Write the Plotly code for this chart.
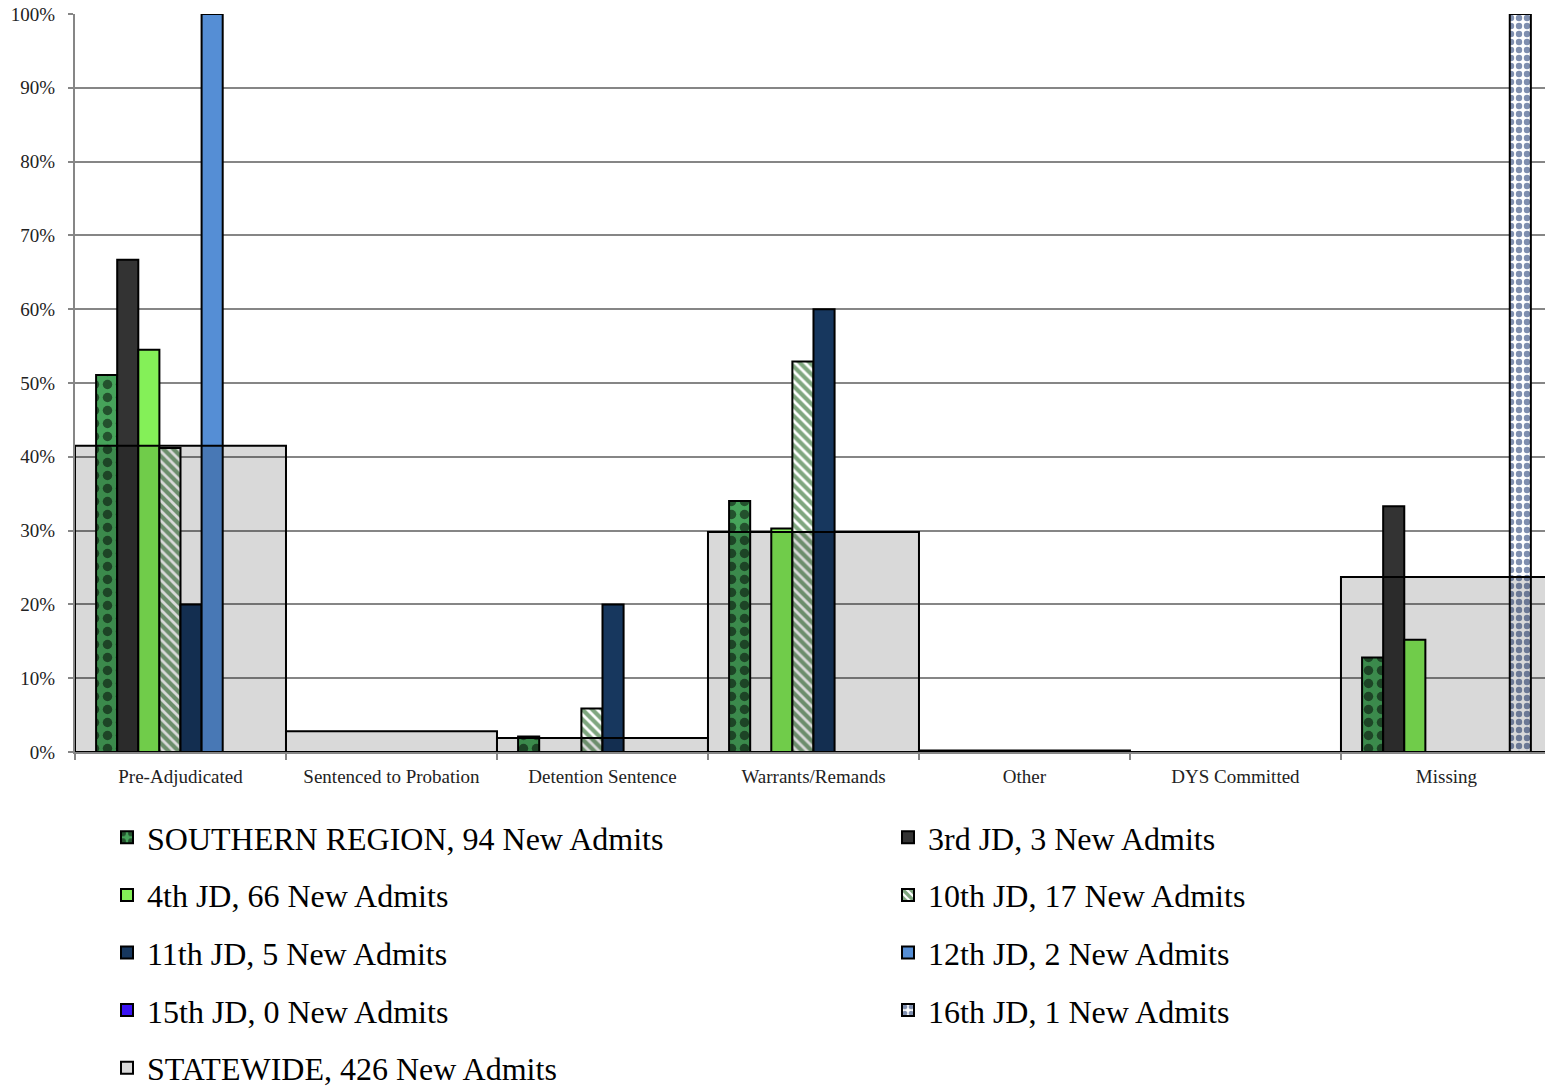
import plotly.graph_objects as go

categories = ["Pre-Adjudicated", "Sentenced to Probation", "Detention Sentence",
              "Warrants/Remands", "Other", "DYS Committed", "Missing"]

southern = [51.1, 0, 2.1, 34.0, 0, 0, 12.8]
jd3 = [66.7, 0, 0, 0, 0, 0, 33.3]
jd4 = [54.5, 0, 0, 30.3, 0, 0, 15.2]
jd10 = [41.2, 0, 5.9, 52.9, 0, 0, 0]
jd11 = [20.0, 0, 20.0, 60.0, 0, 0, 0]
jd12 = [100.0, 0, 0, 0, 0, 0, 0]
jd15 = [0, 0, 0, 0, 0, 0, 0]
jd16 = [0, 0, 0, 0, 0, 0, 100.0]
statewide = [41.5, 2.8, 1.9, 29.8, 0.2, 0, 23.7]

names = {
    "southern": "SOUTHERN REGION, 94 New Admits",
    "jd3": "3rd JD, 3 New Admits",
    "jd4": "4th JD, 66 New Admits",
    "jd10": "10th JD, 17 New Admits",
    "jd11": "11th JD, 5 New Admits",
    "jd12": "12th JD, 2 New Admits",
    "jd15": "15th JD, 0 New Admits",
    "jd16": "16th JD, 1 New Admits",
    "statewide": "STATEWIDE, 426 New Admits",
}

FONT = "Liberation Serif"
line = dict(color="black", width=2)

fig = go.Figure()

def add_bar(key, vals, legend, color=None, pattern=None):
    marker = dict(line=line)
    if color is not None:
        marker["color"] = color
    if pattern is not None:
        marker["pattern"] = pattern
    fig.add_trace(go.Bar(x=categories, y=vals, name=names[key], marker=marker,
                         legend=legend, legendgroup=key, xaxis="x", yaxis="y"))

add_bar("southern", southern, "legend", color="#46A35A",
        pattern=dict(shape=".", fgcolor="black", bgcolor="#46A35A", size=13, solidity=0.42))
add_bar("jd3", jd3, "legend2", color="#333333")
add_bar("jd4", jd4, "legend", color="#84F058")
add_bar("jd10", jd10, "legend2", color="white",
        pattern=dict(shape="\\", fgcolor="#004D00", bgcolor="white", size=7, solidity=0.6))
add_bar("jd11", jd11, "legend", color="#17375E")
add_bar("jd12", jd12, "legend2", color="#558ED5")
add_bar("jd15", jd15, "legend", color="#3A14F5")
add_bar("jd16", jd16, "legend2", color="white",
        pattern=dict(shape=".", fgcolor="#002060", bgcolor="white", size=8, solidity=0.5))

fig.add_trace(go.Bar(x=categories, y=statewide, name=names["statewide"], width=1.0,
                     marker=dict(color="rgba(0,0,0,0.15)", line=line),
                     legend="legend", legendgroup="statewide", xaxis="x2", yaxis="y"))

W, H = 1545, 1092
xr = [-0.5, 6.467]
leg_top = 1 - 810 / H
fig.update_layout(
    width=W, height=H,
    margin=dict(l=75, r=0, t=14, b=H - 14 - 738, autoexpand=False),
    paper_bgcolor="white", plot_bgcolor="white",
    barmode="group", bargap=0.2, bargroupgap=0,
    font=dict(family=FONT, color="#222222"),
    xaxis=dict(type="category", categoryorder="array", categoryarray=categories,
               range=xr, showgrid=False, showline=True, linecolor="#868686", linewidth=2,
               ticks="outside", tickson="boundaries", ticklen=6, tickcolor="#868686",
               tickwidth=2, tickfont=dict(family=FONT, size=19, color="#222222"),
               tickangle=0, automargin=False, ticklabelstandoff=6),
    xaxis2=dict(type="category", categoryorder="array", categoryarray=categories,
                range=xr, overlaying="x", visible=False),
    yaxis=dict(range=[0, 100], dtick=10, ticksuffix="%", showgrid=True,
               gridcolor="#868686", gridwidth=2, showline=True, linecolor="#868686",
               linewidth=2, ticks="outside", ticklen=5, tickcolor="#868686", tickwidth=2,
               tickfont=dict(family=FONT, size=19, color="#222222"), automargin=False,
               ticklabelstandoff=9, zeroline=False),
    legend=dict(xref="container", yref="container", x=107 / W, y=leg_top,
                xanchor="left", yanchor="top", orientation="v", traceorder="grouped",
                tracegroupgap=13, font=dict(family=FONT, size=32, color="black"),
                bgcolor="rgba(0,0,0,0)"),
    legend2=dict(xref="container", yref="container", x=888 / W, y=leg_top,
                 xanchor="left", yanchor="top", orientation="v", traceorder="grouped",
                 tracegroupgap=13, font=dict(family=FONT, size=32, color="black"),
                 bgcolor="rgba(0,0,0,0)"),
)

fig.write_html("out.html", config={"displayModeBar": False},
               post_script="document.body.style.margin='0';")
